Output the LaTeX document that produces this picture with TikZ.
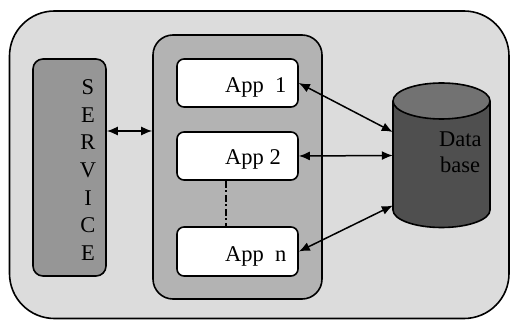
\documentclass[tikz,border=0pt]{standalone}
\usepackage{fontspec}
\setmainfont{Liberation Serif}
\usetikzlibrary{arrows.meta}
\definecolor{outerfill}{HTML}{DCDCDC}
\definecolor{midfill}{HTML}{B3B3B3}
\definecolor{svcfill}{HTML}{969696}
\definecolor{dbbody}{HTML}{4F4F4F}
\definecolor{dbtop}{HTML}{727272}
\tikzset{
  box/.style={draw=black, line width=1.6pt, inner sep=0pt, anchor=center},
  outerbox/.style={box, fill=outerfill, rounded corners=45pt, minimum width=499.5pt, minimum height=307.5pt},
  midbox/.style={box, fill=midfill, rounded corners=20pt, minimum width=169pt, minimum height=264pt},
  svcbox/.style={box, fill=svcfill, rounded corners=10pt, minimum width=73pt, minimum height=217pt},
  appbox/.style={box, fill=white, rounded corners=7pt, minimum width=121pt, minimum height=48pt},
  lbl/.style={inner sep=0pt, font=\fontsize{22.5}{25}\selectfont, text=black},
  conn/.style={line width=1.5pt, {Latex[length=11pt,width=9pt]}-{Latex[length=11pt,width=9pt]}},
  dbline/.style={draw=black, line width=1.6pt}
}
\begin{document}
\begin{tikzpicture}[x=1pt,y=-1pt]
\useasboundingbox (0,0) rectangle (510,320);
\node[outerbox] (outer) at (259.25,164.75) {};
\node[svcbox] (svc) at (69.5,167.5) {};
\foreach \l [count=\i] in {S,E,R,V,I,C,E}
  \node[lbl, anchor=base] (s\i) at (88,{95+27.5*(\i-1)}) {\l};
\node[midbox] (mid) at (237.5,167) {};
\node[appbox] (a1) at (237.5,83) {};
\node[appbox] (a2) at (237.5,156) {};
\node[appbox, minimum height=49pt] (an) at (237.5,251.5) {};
\node[lbl, anchor=base west] (t1) at (225,93) {App\ \ 1};
\node[lbl, anchor=base west] (t2) at (225,165) {App 2};
\node[lbl, anchor=base west] (tn) at (225,261) {App\ \ n};
\draw[line width=1.4pt, dash pattern=on 7pt off 2.5pt on 2pt off 2.5pt] (a2.south -| 226,0) -- (an.north -| 226,0);
% database cylinder
\fill[dbbody, draw=black, line width=1.6pt] (441.5,210) ellipse [x radius=48.5, y radius=17.5];
\fill[dbbody] (393,101) rectangle (490,210);
\draw[dbline] (393,101) -- (393,210);
\draw[dbline] (490,101) -- (490,210);
\draw[dbline, fill=dbtop] (441.5,101) ellipse [x radius=48.5, y radius=18];
\node[inner sep=0pt, minimum width=97pt, minimum height=109pt] (db) at (441.5,155.5) {};
\node[lbl, anchor=base west] (dt1) at (439,147) {Data};
\node[lbl, anchor=base west] (dt2) at (440,172) {base};
% connectors
\draw[conn] ([yshift=36.5pt]svc.east) -- ([yshift=36pt]mid.west);
\draw[conn] (a1.east) -- ([yshift=23.5pt]db.west);
\draw[conn] (a2.east) -- (db.west);
\draw[conn] (an.east) -- ([yshift=-50pt]db.west);
\end{tikzpicture}
\end{document}
